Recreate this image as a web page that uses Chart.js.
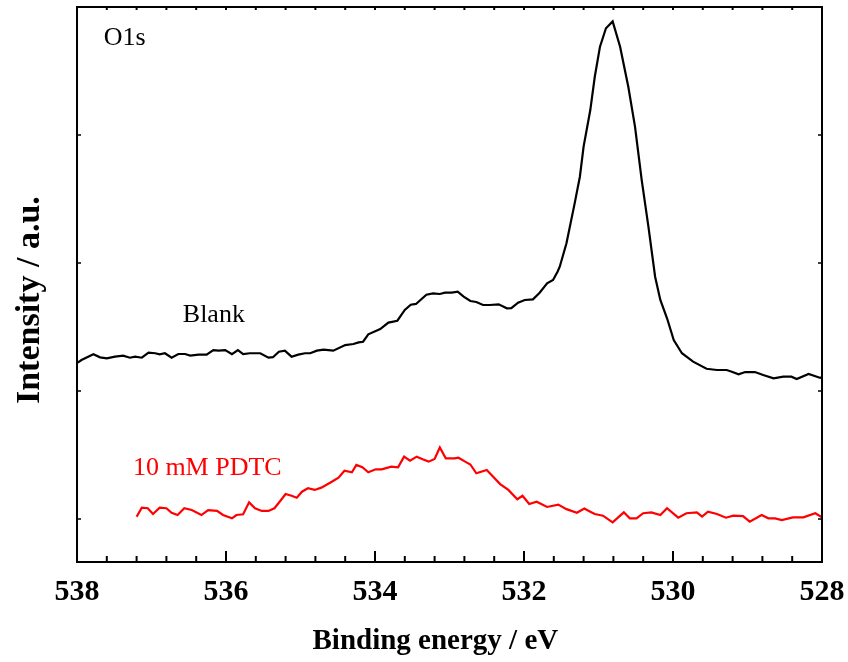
<!DOCTYPE html>
<html>
<head>
<meta charset="utf-8">
<script src="https://cdn.jsdelivr.net/npm/chart.js@4/dist/chart.umd.min.js"></script>
<style>
html,body{margin:0;padding:0;background:#fff;}
#wrap{width:848px;height:662px;}
</style>
</head>
<body>
<div id="wrap"><canvas id="c" width="848" height="662"></canvas></div>
<script>
// Binding energy (eV) and intensity (a.u.)
const blankX = [537.99,537.94,537.78,537.69,537.60,537.49,537.38,537.29,537.22,537.13,537.04,536.95,536.89,536.82,536.73,536.64,536.55,536.48,536.37,536.26,536.17,536.10,536.01,535.92,535.84,535.77,535.68,535.54,535.43,535.37,535.29,535.21,535.12,535.03,534.94,534.87,534.78,534.69,534.56,534.40,534.29,534.22,534.16,534.09,533.93,533.82,533.70,533.60,533.52,533.45,533.31,533.22,533.13,533.06,532.97,532.89,532.81,532.72,532.64,532.55,532.46,532.34,532.23,532.17,532.08,531.99,531.88,531.79,531.69,531.61,531.55,531.52,531.43,531.32,531.25,531.20,531.11,531.05,530.98,530.90,530.81,530.71,530.60,530.51,530.42,530.33,530.24,530.17,530.08,529.99,529.88,529.73,529.55,529.41,529.28,529.21,529.12,529.03,528.90,528.79,528.65,528.52,528.41,528.34,528.18,528.03,528.00];
const blankY = [1.221,1.242,1.287,1.263,1.255,1.268,1.276,1.260,1.268,1.260,1.299,1.295,1.287,1.295,1.260,1.289,1.289,1.276,1.284,1.284,1.320,1.315,1.320,1.287,1.320,1.289,1.295,1.295,1.260,1.264,1.307,1.315,1.268,1.284,1.295,1.295,1.315,1.323,1.315,1.359,1.367,1.380,1.385,1.443,1.484,1.534,1.549,1.633,1.674,1.680,1.752,1.763,1.758,1.768,1.768,1.776,1.737,1.703,1.695,1.672,1.672,1.677,1.646,1.648,1.690,1.711,1.716,1.768,1.841,1.867,1.932,1.971,2.154,2.466,2.674,2.909,3.195,3.455,3.690,3.834,3.887,3.690,3.377,3.065,2.648,2.284,1.893,1.711,1.568,1.398,1.295,1.229,1.174,1.164,1.164,1.151,1.130,1.148,1.148,1.125,1.099,1.112,1.112,1.094,1.133,1.104,1.102];
const pdtcX = [537.20,537.13,537.05,536.98,536.89,536.80,536.73,536.65,536.56,536.46,536.33,536.24,536.12,536.04,535.92,535.86,535.77,535.69,535.61,535.52,535.43,535.35,535.28,535.20,535.12,535.05,534.98,534.90,534.81,534.72,534.58,534.49,534.41,534.31,534.25,534.17,534.09,533.99,533.91,533.78,533.69,533.61,533.53,533.44,533.36,533.28,533.20,533.13,533.05,532.93,532.88,532.79,532.72,532.64,532.50,532.32,532.21,532.09,532.02,531.93,531.83,531.69,531.54,531.43,531.29,531.19,531.11,531.05,530.94,530.81,530.66,530.58,530.49,530.40,530.29,530.17,530.08,529.93,529.82,529.68,529.61,529.53,529.41,529.29,529.19,529.06,528.97,528.81,528.72,528.63,528.54,528.39,528.25,528.09,528.00];
const pdtcY = [0.018,0.088,0.084,0.039,0.088,0.084,0.049,0.031,0.084,0.070,0.031,0.070,0.063,0.031,0.005,0.031,0.037,0.130,0.084,0.063,0.063,0.084,0.135,0.195,0.182,0.166,0.213,0.240,0.227,0.245,0.291,0.323,0.377,0.365,0.422,0.404,0.365,0.388,0.388,0.409,0.404,0.487,0.455,0.487,0.466,0.448,0.469,0.559,0.474,0.474,0.479,0.448,0.426,0.357,0.383,0.273,0.227,0.154,0.181,0.117,0.135,0.094,0.112,0.077,0.049,0.082,0.057,0.039,0.026,-0.026,0.052,0.005,0.005,0.045,0.052,0.031,0.084,0.010,0.045,0.052,0.018,0.057,0.039,0.010,0.026,0.023,-0.021,0.031,0.005,0.005,-0.008,0.013,0.013,0.045,0.013];
const xTickLabels = [528, 530, 532, 534, 536, 538];
const yTickValues = [0, 1, 2, 3];
const seriesNames = ["Blank", "10 mM PDTC"];
const panelLabel = "O1s";
const xTitle = "Binding energy / eV";
const yTitle = "Intensity / a.u.";

const toPts = (xs, ys) => xs.map((x, i) => ({x: x, y: ys[i]}));
const SERIF = "'Liberation Serif', 'Times New Roman', serif";

const framePlugin = {
  id: 'frame',
  afterDraw(chart) {
    const ctx = chart.ctx, a = chart.chartArea;
    const xs = chart.scales.x, ys = chart.scales.y;
    ctx.save();
    ctx.strokeStyle = '#000';
    ctx.lineWidth = 2;
    ctx.strokeRect(a.left, a.top, a.right - a.left, a.bottom - a.top);
    // x ticks (inward), major every 2 eV, minor every 0.4 eV
    for (let i = 0; i <= 25; i++) {
      const v = 528 + i * 0.4;
      const px = xs.getPixelForValue(v);
      const major = (i % 5 === 0);
      ctx.beginPath();
      ctx.moveTo(px, a.bottom); ctx.lineTo(px, a.bottom - (major ? 11 : 6));
      ctx.moveTo(px, a.top); ctx.lineTo(px, a.top + 3);
      ctx.stroke();
    }
    ctx.lineWidth = 1.5;
    yTickValues.forEach(v => {
      const py = ys.getPixelForValue(v);
      ctx.beginPath();
      ctx.moveTo(a.left, py); ctx.lineTo(a.left + 4, py);
      ctx.moveTo(a.right, py); ctx.lineTo(a.right - 4, py);
      ctx.stroke();
    });
    // annotations
    ctx.textBaseline = 'alphabetic';
    ctx.textAlign = 'left';
    ctx.font = "26px " + SERIF;
    ctx.fillStyle = '#000';
    ctx.fillText(panelLabel, xs.getPixelForValue(537.64), ys.getPixelForValue(3.70));
    ctx.fillText(seriesNames[0], xs.getPixelForValue(536.58), ys.getPixelForValue(1.54));
    ctx.fillStyle = '#ff0000';
    ctx.fillText(seriesNames[1], xs.getPixelForValue(537.25), ys.getPixelForValue(0.34));
    // axis titles
    ctx.fillStyle = '#000';
    ctx.font = "bold 29px " + SERIF;
    ctx.textAlign = 'center';
    ctx.fillText(xTitle, xs.getPixelForValue(533.19), 649);
    ctx.save();
    ctx.translate(39, ys.getPixelForValue(1.71));
    ctx.rotate(-Math.PI / 2);
    ctx.font = "bold 34px " + SERIF;
    ctx.fillText(yTitle, 0, 0);
    ctx.restore();
    ctx.restore();
  }
};

new Chart(document.getElementById('c'), {
  type: 'line',
  data: {
    datasets: [
      {label: seriesNames[0], data: toPts(blankX, blankY), borderColor: '#000', borderWidth: 2.2, pointRadius: 0, tension: 0, fill: false},
      {label: seriesNames[1], data: toPts(pdtcX, pdtcY), borderColor: '#ff0000', borderWidth: 2.2, pointRadius: 0, tension: 0, fill: false}
    ]
  },
  options: {
    responsive: false,
    animation: false,
    devicePixelRatio: 1,
    layout: {padding: {top: 7, right: 26, left: 0, bottom: 0}},
    plugins: {legend: {display: false}, tooltip: {enabled: false}},
    scales: {
      x: {
        type: 'linear', reverse: true, min: 528, max: 538,
        grid: {display: false}, border: {display: false},
        afterBuildTicks(s) { s.ticks = xTickLabels.map(v => ({value: v})); },
        afterFit(s) { s.height = 100; },
        ticks: {color: '#000', padding: 4, maxRotation: 0, autoSkip: false,
          font: {family: SERIF, size: 30, weight: 'bold'}}
      },
      y: {
        type: 'linear', min: -0.336, max: 4.0,
        grid: {display: false}, border: {display: false},
        ticks: {display: false},
        afterFit(s) { s.width = 77; }
      }
    }
  },
  plugins: [framePlugin]
});
</script>
</body>
</html>
